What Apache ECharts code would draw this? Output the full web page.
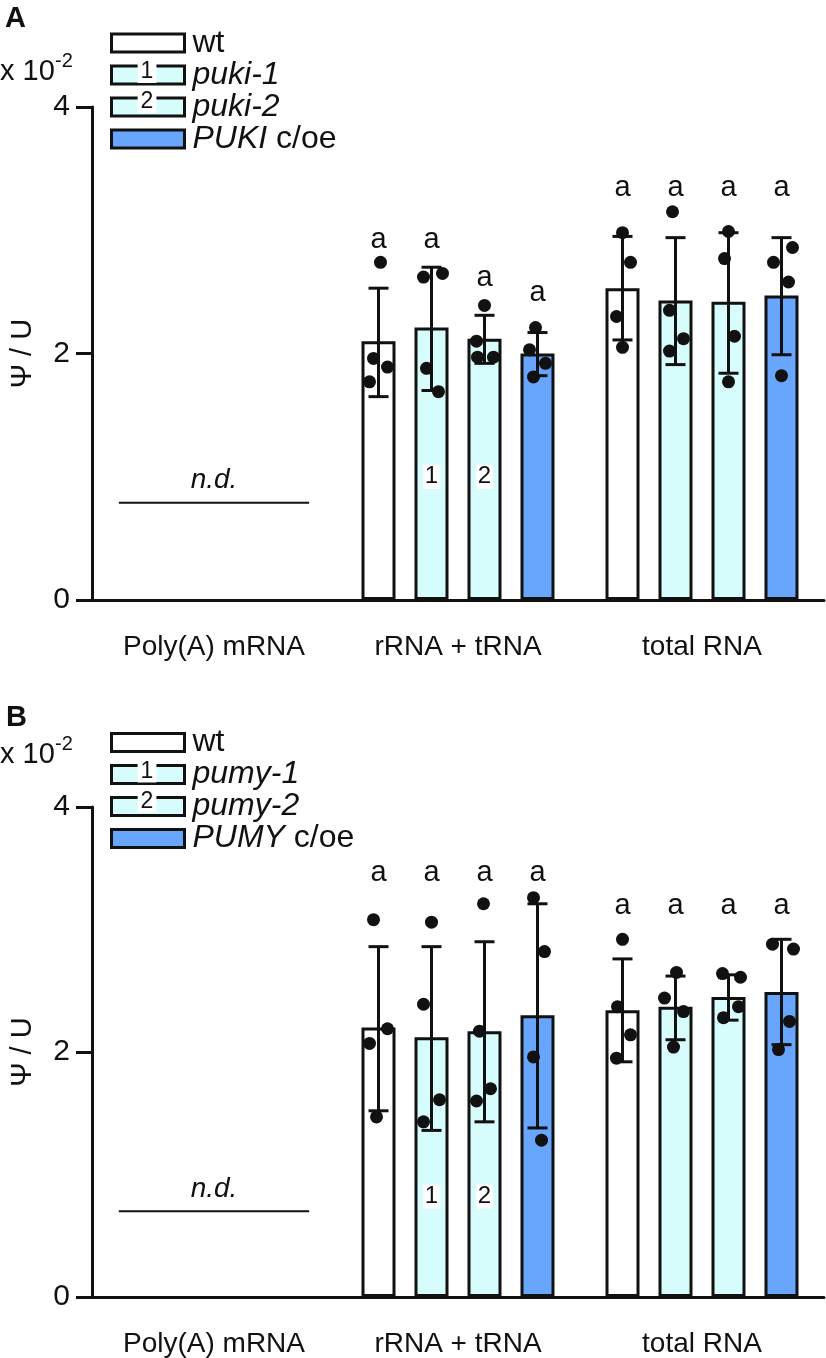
<!DOCTYPE html>
<html><head><meta charset="utf-8">
<script src="https://cdn.jsdelivr.net/npm/echarts@6/dist/echarts.min.js"></script>
<style>html,body{margin:0;padding:0;background:#fff}#c{width:826px;height:1358px}</style>
</head><body><div id="c"></div>
<script>
// ---------------- data ----------------
const categories = ['Poly(A) mRNA', 'rRNA + tRNA', 'total RNA'];
const yTickValues = [0, 2, 4];
const namesA = ['wt', 'puki-1', 'puki-2', 'PUKI c/oe'];
const namesB = ['wt', 'pumy-1', 'pumy-2', 'PUMY c/oe'];
const tagsInBar = ['', '1', '2', ''];
const sigLetter = 'a';
const ndText = 'n.d.';

// rows: genotype; columns: category (Poly(A) mRNA not detected)
const meanA  = [[null, 2.10, 2.53], [null, 2.21, 2.43], [null, 2.12, 2.42], [null, 2.00, 2.47]];
const errLoA = [[null, 1.65, 2.11], [null, 1.70, 1.91], [null, 1.92, 1.84], [null, 1.82, 1.99]];
const errHiA = [[null, 2.53, 2.95], [null, 2.70, 2.94], [null, 2.31, 2.98], [null, 2.17, 2.94]];
const dotsA_rRNA  = [[2.74, 1.96, 1.89, 1.77], [2.62, 2.65, 1.88, 1.69], [2.39, 2.10, 1.97, 1.97], [2.21, 2.03, 1.92, 1.81]];
const dotsA_total = [[2.98, 2.74, 2.30, 2.05], [3.15, 2.35, 2.12, 2.02], [2.99, 2.77, 2.14, 1.77], [2.86, 2.74, 2.58, 1.82]];
const sigA = [[null, 2.92, 3.34], [null, 2.92, 3.34], [null, 2.61, 3.34], [null, 2.49, 3.34]];
const tagLevelA = 1.0;
const ndLevelA = 0.79;

const meanB  = [[null, 2.20, 2.34], [null, 2.12, 2.37], [null, 2.17, 2.45], [null, 2.30, 2.49]];
const errLoB = [[null, 1.52, 1.92], [null, 1.36, 2.10], [null, 1.43, 2.26], [null, 1.38, 2.06]];
const errHiB = [[null, 2.86, 2.76], [null, 2.86, 2.62], [null, 2.90, 2.63], [null, 3.21, 2.92]];
const dotsB_rRNA  = [[3.08, 2.19, 2.07, 1.47], [3.06, 2.39, 1.61, 1.43], [3.21, 2.17, 1.70, 1.60], [3.26, 2.82, 1.96, 1.28]];
const dotsB_total = [[2.92, 2.37, 2.14, 1.95], [2.65, 2.44, 2.33, 2.04], [2.64, 2.61, 2.37, 2.28], [2.88, 2.84, 2.25, 2.02]];
const sigB = [[null, 3.46, 3.19], [null, 3.46, 3.19], [null, 3.46, 3.19], [null, 3.46, 3.19]];
const tagLevelB = 0.82;
const ndLevelB = 0.70;

// horizontal jitter of the dots (style, px)
const jitA_rRNA  = [[2, -5, 9, -9], [-8, 11, -5, 7], [0, -8, -7, 9], [-2, -8, 8, -4]];
const jitA_total = [[0, 8, -6, 0], [-3, -6, 8, -6], [0, -4, 6, 0], [11, -8, 7, 0]];
const jitB_rRNA  = [[-5, 9, -9, -2], [0, -8, 8, -8], [-1, -5, 6, -8], [-4, 7, -4, 4]];
const jitB_total = [[0, -5, 8, -6], [1, -11, 8, -2], [-6, 12, 10, -5], [-9, 12, 8, -3]];

// ---------------- style ----------------
const FONT = "'Liberation Sans', Arial, Helvetica, sans-serif";
const INK = '#111111';
const fills = ['#ffffff', '#d6fcfc', '#d6fcfc', '#68a5fc'];
const BAR_W = 34, BAR_GAP = 19;
const PITCH = BAR_W + BAR_GAP;
const barOffset = s => (s - 1.5) * PITCH;
const CAP = 20;

function buildPanel(p, names, mean, lo, hi, dotsR, dotsT, jitR, jitT, sig, tagLevel, ndLevel) {
  const series = [];
  names.forEach((n, s) => {
    series.push({
      type: 'bar', name: n, xAxisIndex: p, yAxisIndex: p, data: mean[s],
      barWidth: BAR_W, barGap: (BAR_GAP / BAR_W * 100).toFixed(2) + '%',
      itemStyle: { color: fills[s], borderColor: INK, borderWidth: 3 },
      z: 2, silent: true
    });
  });
  const errData = [];
  const sigData = [];
  mean.forEach((row, s) => row.forEach((v, c) => {
    if (v == null) return;
    errData.push([c, lo[s][c], hi[s][c], s]);
    sigData.push([c, sig[s][c], s]);
  }));
  series.push({
    type: 'custom', xAxisIndex: p, yAxisIndex: p, data: errData, z: 4, silent: true,
    encode: { x: 0, y: [1, 2] },
    renderItem(params, api) {
      const c = api.value(0), s = api.value(3);
      const pl = api.coord([c, api.value(1)]), ph = api.coord([c, api.value(2)]);
      const x = pl[0] + barOffset(s);
      const st = { stroke: INK, lineWidth: 3 };
      return { type: 'group', children: [
        { type: 'line', shape: { x1: x, y1: pl[1], x2: x, y2: ph[1] }, style: st },
        { type: 'line', shape: { x1: x - CAP / 2, y1: ph[1], x2: x + CAP / 2, y2: ph[1] }, style: st },
        { type: 'line', shape: { x1: x - CAP / 2, y1: pl[1], x2: x + CAP / 2, y2: pl[1] }, style: st }
      ]};
    }
  });
  const dotData = [];
  [[1, dotsR, jitR], [2, dotsT, jitT]].forEach(([c, d, j]) =>
    d.forEach((arr, s) => arr.forEach((v, k) => dotData.push([c, v, s, j[s][k]]))));
  series.push({
    type: 'custom', xAxisIndex: p, yAxisIndex: p, data: dotData, z: 5, silent: true,
    encode: { x: 0, y: 1 },
    renderItem(params, api) {
      const pt = api.coord([api.value(0), api.value(1)]);
      return { type: 'circle', shape: { cx: pt[0] + barOffset(api.value(2)) + api.value(3), cy: pt[1], r: 6.5 },
               style: { fill: INK } };
    }
  });
  series.push({
    type: 'custom', xAxisIndex: p, yAxisIndex: p, data: sigData, z: 5, silent: true,
    encode: { x: 0, y: 1 },
    renderItem(params, api) {
      const pt = api.coord([api.value(0), api.value(1)]);
      return { type: 'text', x: pt[0] + barOffset(api.value(2)), y: pt[1],
               style: { text: sigLetter, fontSize: 29, fontFamily: FONT, fill: INK, align: 'center', verticalAlign: 'middle' } };
    }
  });
  const tagData = [];
  tagsInBar.forEach((t, s) => { if (t) tagData.push([1, tagLevel, s]); });
  series.push({
    type: 'custom', xAxisIndex: p, yAxisIndex: p, data: tagData, z: 5, silent: true,
    encode: { x: 0, y: 1 },
    renderItem(params, api) {
      const s = api.value(2);
      const pt = api.coord([api.value(0), api.value(1)]);
      return { type: 'text', x: pt[0] + barOffset(s), y: pt[1],
               style: { text: tagsInBar[s], fontSize: 24, fontFamily: FONT, fill: INK, align: 'center', verticalAlign: 'middle',
                        backgroundColor: '#ffffff', padding: [1, 2, 0, 2], lineHeight: 23 } };
    }
  });
  series.push({
    type: 'custom', xAxisIndex: p, yAxisIndex: p, data: [[0, ndLevel]], z: 5, silent: true,
    encode: { x: 0, y: 1 },
    renderItem(params, api) {
      const pt = api.coord([api.value(0), api.value(1)]);
      const half = api.size([1, 0])[0] * 0.39;
      return { type: 'group', children: [
        { type: 'line', shape: { x1: pt[0] - half, y1: pt[1], x2: pt[0] + half, y2: pt[1] }, style: { stroke: INK, lineWidth: 2 } },
        { type: 'text', x: pt[0], y: pt[1] - 8,
          style: { text: ndText, fontSize: 28, fontStyle: 'italic', fontFamily: FONT, fill: INK, align: 'center', verticalAlign: 'bottom' } }
      ]};
    }
  });
  return series;
}

function xAxisFor(p) {
  return {
    type: 'category', gridIndex: p, data: categories, boundaryGap: true,
    axisLine: { lineStyle: { color: INK, width: 3 } },
    axisTick: { alignWithLabel: true, length: 15, lineStyle: { color: INK, width: 3 } },
    axisLabel: { fontSize: 28, fontFamily: FONT, color: INK, margin: 33 },
    splitLine: { show: false }
  };
}
function yAxisFor(p) {
  return {
    type: 'value', gridIndex: p, min: yTickValues[0], max: yTickValues[yTickValues.length - 1], interval: yTickValues[1] - yTickValues[0],
    axisLine: { show: true, lineStyle: { color: INK, width: 3 } },
    axisTick: { show: true, length: 16, lineStyle: { color: INK, width: 3 } },
    axisLabel: { fontSize: 30, fontFamily: FONT, color: INK, margin: 22 },
    splitLine: { show: false },
    name: 'Ψ / U', nameLocation: 'middle', nameRotate: 90, nameGap: 55,
    nameTextStyle: { fontSize: 29, fontFamily: FONT, color: INK }
  };
}
function legendFor(names, top) {
  return {
    data: names, orient: 'vertical', left: 110, top: top, icon: 'rect', padding: 0,
    itemWidth: 73, itemHeight: 18, itemGap: 0, selectedMode: false,
    itemStyle: { borderColor: INK, borderWidth: 3 },
    formatter: n => n === 'wt' ? n : (n.endsWith(' c/oe') ? '{i|' + n.split(' ')[0] + '} c/oe' : '{i|' + n + '}'),
    textStyle: { fontSize: 32, fontFamily: FONT, color: INK, lineHeight: 30, padding: [0, 0, 0, 3],
      rich: { i: { fontSize: 32, fontFamily: FONT, fontStyle: 'italic', color: INK, lineHeight: 30 } } }
  };
}
function txt(x, y, text, size, extra) {
  return { type: 'text', x: x, y: y, z: 10, silent: true,
    style: Object.assign({ text: text, fontSize: size, fontFamily: FONT, fill: INK, align: 'left', verticalAlign: 'middle' }, extra || {}) };
}
function legendTag(x, y, t) {
  return txt(x, y, t, 23, { align: 'center', backgroundColor: '#ffffff', padding: [1, 3, 0, 3], lineHeight: 21 });
}

const chart = echarts.init(document.getElementById('c'), null, { renderer: 'canvas' });
chart.setOption({
  backgroundColor: '#ffffff',
  animation: false,
  grid: [
    { left: 84, right: 2, top: 107, bottom: 758, containLabel: false },
    { left: 84, right: 2, top: 807, bottom: 57, containLabel: false }
  ],
  xAxis: [xAxisFor(0), xAxisFor(1)],
  yAxis: [yAxisFor(0), yAxisFor(1)],
  legend: [legendFor(namesA, 27), legendFor(namesB, 726.5)],
  graphic: [
    txt(5, 19, 'A', 29, { fontWeight: 'bold' }),
    txt(6, 718, 'B', 29, { fontWeight: 'bold' }),
    txt(0, 72, 'x 10', 29), txt(55, 61, '-2', 20),
    txt(0, 755, 'x 10', 29), txt(55, 744, '-2', 20),
    legendTag(147, 72, '1'), legendTag(147, 102, '2'),
    legendTag(147, 771.5, '1'), legendTag(147, 801.5, '2')
  ],
  series: [].concat(
    buildPanel(0, namesA, meanA, errLoA, errHiA, dotsA_rRNA, dotsA_total, jitA_rRNA, jitA_total, sigA, tagLevelA, ndLevelA),
    buildPanel(1, namesB, meanB, errLoB, errHiB, dotsB_rRNA, dotsB_total, jitB_rRNA, jitB_total, sigB, tagLevelB, ndLevelB)
  )
});
</script></body></html>
